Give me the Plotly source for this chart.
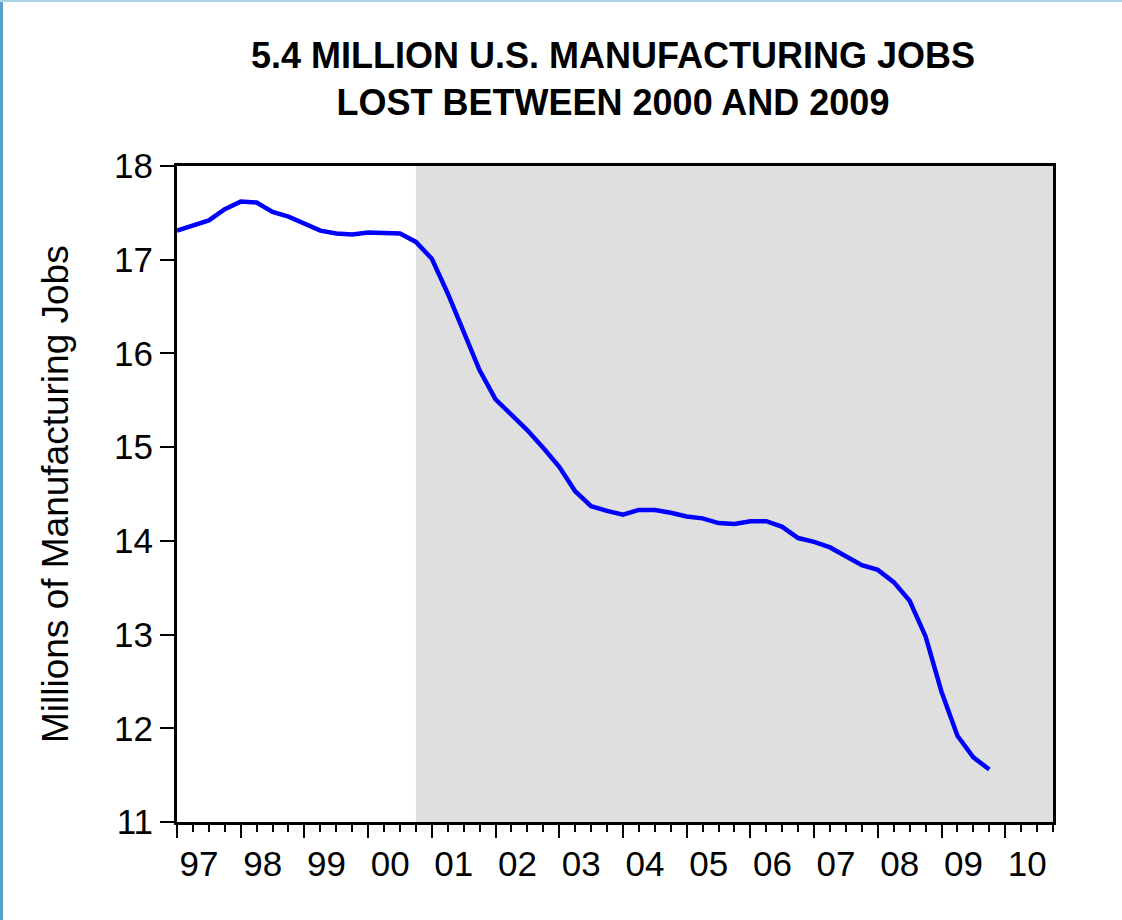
import plotly.graph_objects as go

# ---- data (quarterly, 1997Q1 .. 2009Q4), millions of jobs ----
quarters = [f"{y}Q{q}" for y in range(1997, 2010) for q in range(1, 5)]
jobs = [17.31, 17.36, 17.42, 17.54, 17.62, 17.61, 17.51, 17.46,
        17.38, 17.31, 17.28, 17.27, 17.29, 17.29, 17.28, 17.19,
        17.01, 16.64, 16.23, 15.82, 15.51, 15.34, 15.18, 14.99,
        14.79, 14.53, 14.37, 14.32, 14.28, 14.33, 14.33, 14.30,
        14.26, 14.24, 14.19, 14.18, 14.21, 14.21, 14.15, 14.03,
        13.99, 13.93, 13.84, 13.74, 13.69, 13.56, 13.36, 12.98,
        12.39, 11.92, 11.69, 11.56]
axis_quarters = [f"{y}Q{q}" for y in range(1997, 2011) for q in range(1, 5)]
year_labels = ["97", "98", "99", "00", "01", "02", "03", "04", "05", "06", "07", "08", "09", "10"]
shade_start = "2000Q4"
y_ticks = [11, 12, 13, 14, 15, 16, 17, 18]

x_idx = [axis_quarters.index(q) for q in quarters]
year_idx = [axis_quarters.index(f"{1997 + k}Q1") for k in range(len(year_labels))]
shade_x0 = axis_quarters.index(shade_start)
x_last = len(axis_quarters) - 1

FONT = "Liberation Sans, Arial, sans-serif"
W, H = 1122, 920
L, R, T, B = 177, 69, 166, 98
PW, PH = W - L - R, H - T - B

fig = go.Figure()
fig.add_trace(go.Scatter(x=x_idx, y=jobs, mode="lines",
                         line=dict(color="#0000ff", width=4.5),
                         hoverinfo="y", showlegend=False))

fig.add_shape(type="rect", xref="x", yref="paper", x0=shade_x0, x1=x_last, y0=0, y1=1,
              fillcolor="#dfdfdf", line_width=0, layer="below")

# frame decorations of the original image (left blue edge, top light-blue line)
fig.add_shape(type="rect", xref="paper", yref="paper",
              x0=-L / PW, x1=(3 - L) / PW, y0=-B / PH, y1=1 + T / PH,
              fillcolor="#5aa0c8", line_width=0, layer="above")
fig.add_shape(type="line", xref="paper", yref="paper",
              x0=-L / PW, x1=(W - L) / PW, y0=1 + (T - 1) / PH, y1=1 + (T - 1) / PH,
              line=dict(color="#a9d3e2", width=2), layer="above")

fig.add_annotation(text="Millions of Manufacturing Jobs", textangle=-90,
                   xref="paper", yref="paper", x=(55 - L) / PW, y=0.5,
                   xanchor="center", yanchor="middle", showarrow=False,
                   font=dict(family=FONT, size=37, color="black"))

fig.update_layout(
    width=W, height=H,
    margin=dict(l=L, r=R, t=T, b=B),
    paper_bgcolor="white", plot_bgcolor="white",
    font=dict(family=FONT, color="black", size=35),
    title=dict(text="<b>5.4 MILLION U.S. MANUFACTURING JOBS<br>LOST BETWEEN 2000 AND 2009</b>",
               x=613 / W, xanchor="center", y=0.926, yanchor="middle",
               font=dict(family=FONT, size=36, color="black")),
    xaxis=dict(range=[0, x_last], tickmode="array", tickvals=year_idx, ticktext=year_labels,
               ticks="outside", ticklen=13, tickwidth=2, tickcolor="black",
               minor=dict(tickmode="linear", tick0=0, dtick=1, ticks="outside",
                          ticklen=7, tickwidth=2, tickcolor="black"),
               showline=True, linecolor="black", linewidth=3, mirror=True,
               showgrid=False, zeroline=False, tickfont=dict(size=35),
               ticklabelstandoff=-4, ticklabelshift=22),
    yaxis=dict(range=[11, 18], tickmode="array", tickvals=y_ticks,
               ticks="outside", ticklen=14, tickwidth=1.5, tickcolor="black",
               showline=True, linecolor="black", linewidth=3, mirror=True,
               showgrid=False, zeroline=False, tickfont=dict(size=35)),
)

fig.write_html("out.html", config={"displayModeBar": False},
               post_script="document.body.style.margin='0';")
